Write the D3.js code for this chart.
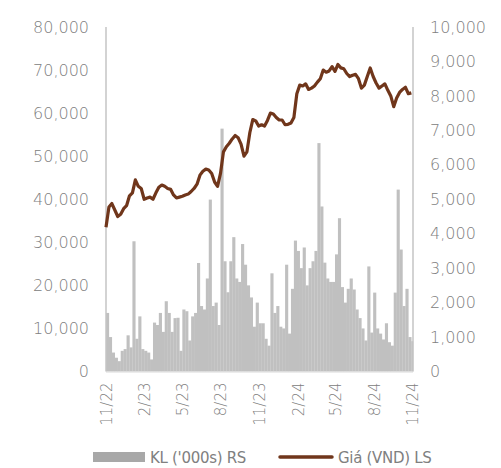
<!DOCTYPE html>
<html>
<head>
<meta charset="utf-8">
<script src="https://cdn.jsdelivr.net/npm/d3@7"></script>
<style>
  body { margin: 0; background: #fff; }
  text { font-family: "DejaVu Sans", sans-serif; fill: #808080; }
</style>
</head>
<body>
<script>
const w = 501;
const h = 468;

// weekly points, first week starting 28 Nov 2022
const startDate = new Date(2022, 10, 28);
const endDate = new Date(2024, 10, 29);

// Giá (VND), left axis
const price = [33500, 38200, 39000, 37500, 36000, 36500, 37800, 38500, 40800, 41500,
  44500, 43000, 42500, 40000, 40300, 40500, 40000, 41500, 42800, 43300,
  43000, 42500, 42300, 41000, 40300, 40500, 40700, 41000, 41200, 41800,
  42500, 43500, 45600, 46500, 47000, 46800, 46000, 44000, 43000, 46000,
  51000, 52200, 53000, 54000, 54800, 54300, 52800, 50000, 51000, 55500,
  58500, 58200, 57000, 57300, 57000, 58300, 60000, 59800, 59000, 58400,
  58400, 57300, 57400, 57700, 59000, 64500, 66500, 66300, 66800, 65500,
  65800, 66300, 67200, 68000, 70000, 69500, 69800, 70800, 69700, 71300,
  70500, 70300, 69200, 68500, 68800, 69000, 68000, 65800, 66500, 68500,
  70500, 68500, 67000, 65800, 66300, 66800, 65300, 64000, 61500, 63500,
  64800, 65500, 66000, 64500, 64700];

// KL ('000s), right axis
const volume = [1700, 1000, 550, 400, 300, 600, 650, 1050, 700, 3780,
  950, 1600, 650, 600, 550, 350, 1420, 1350, 1700, 1150,
  2040, 1700, 1150, 1550, 1560, 600, 1800, 1750, 900, 1600,
  1700, 3150, 1900, 1800, 2700, 4990, 1900, 2000, 1350, 7050,
  3200, 2300, 3200, 3900, 2700, 2600, 3700, 3100, 2500, 2150,
  1300, 2000, 1400, 1400, 950, 750, 2850, 1700, 1900, 1300,
  1250, 3100, 1100, 2400, 3800, 3500, 3000, 3600, 2500, 3000,
  3200, 3500, 6630, 4790, 3160, 2700, 2600, 2600, 3400, 4450,
  2450, 2000, 2400, 2700, 2380, 1800, 1550, 1250, 900, 3050,
  1130, 2290, 1250, 1100, 930, 1400, 850, 750, 2290, 5280,
  3540, 1900, 2400, 1000, 880];

const leftTicks = [0, 10000, 20000, 30000, 40000, 50000, 60000, 70000, 80000];
const rightTicks = [0, 1000, 2000, 3000, 4000, 5000, 6000, 7000, 8000, 9000, 10000];
const xTickDates = [[2022, 10], [2023, 1], [2023, 4], [2023, 7], [2023, 10],
  [2024, 1], [2024, 4], [2024, 7], [2024, 10]];

const legendBars = "KL ('000s) RS";
const legendLine = "Giá (VND) LS";

const weeks = d3.timeMonday.range(startDate, endDate).slice(0, price.length);
const rows = weeks.map((d, i) => ({ date: d, price: price[i], volume: volume[i] }));

const svg = d3.select("body").append("svg").attr("width", w).attr("height", h);

const xScale = d3.scaleTime().domain([startDate, endDate]).range([106, 413]);
const yLeft = d3.scaleLinear().domain([0, 80000]).range([371.5, 27]);
const yRight = d3.scaleLinear().domain([0, 10000]).range([371.5, 27]);

// volume bars
svg.append("g")
  .selectAll("rect")
  .data(rows)
  .enter()
  .append("rect")
  .attr("x", d => xScale(d.date))
  .attr("width", (d, i) => (i < rows.length - 1 ? xScale(rows[i + 1].date) : xScale(endDate)) - xScale(d.date) + 0.2)
  .attr("y", d => yRight(d.volume))
  .attr("height", d => yRight(0) - yRight(d.volume))
  .attr("fill", "#c0c0c0");

// axis lines
svg.append("line").attr("x1", 106).attr("x2", 106).attr("y1", 27).attr("y2", yLeft(0))
  .attr("stroke", "#c4c4c4").attr("stroke-width", 1.5);
svg.append("line").attr("x1", 413).attr("x2", 413).attr("y1", 27).attr("y2", yLeft(0))
  .attr("stroke", "#c4c4c4").attr("stroke-width", 1.5);
svg.append("line").attr("x1", 106).attr("x2", 413).attr("y1", yLeft(0) + 0.5).attr("y2", yLeft(0) + 0.5)
  .attr("stroke", "#dadada").attr("stroke-width", 1);

// price line
const line = d3.line()
  .x(d => xScale(d.date))
  .y(d => yLeft(d.price));

svg.append("path")
  .datum(rows)
  .attr("d", line)
  .attr("fill", "none")
  .attr("stroke", "#70361b")
  .attr("stroke-width", 3.2)
  .attr("stroke-linejoin", "round");

// y axes
const leftAxis = d3.axisLeft(yLeft).tickValues(leftTicks).tickSize(0).tickPadding(17)
  .tickFormat(d3.format(","));
svg.append("g")
  .attr("transform", "translate(106,0)")
  .call(leftAxis)
  .call(g => g.select(".domain").remove())
  .selectAll("text")
  .attr("font-size", "16px")
  .attr("font-family", "DejaVu Sans")
  .attr("font-weight", 200)
  .attr("fill", "#7a7a7a");

const rightAxis = d3.axisRight(yRight).tickValues(rightTicks).tickSize(0).tickPadding(17)
  .tickFormat(d3.format(","));
svg.append("g")
  .attr("transform", "translate(413,0)")
  .call(rightAxis)
  .call(g => g.select(".domain").remove())
  .selectAll("text")
  .attr("font-size", "16px")
  .attr("font-family", "DejaVu Sans")
  .attr("font-weight", 200)
  .attr("fill", "#7a7a7a");

// x axis, rotated labels
const xTicks = xTickDates.map(d => new Date(d[0], d[1], 28));
const xAxis = d3.axisBottom(xScale).tickValues(xTicks).tickSize(0)
  .tickFormat(d3.timeFormat("%-m/%y"));
svg.append("g")
  .attr("transform", "translate(0," + yLeft(0) + ")")
  .call(xAxis)
  .call(g => g.select(".domain").remove())
  .selectAll("text")
  .attr("font-size", "15px")
  .attr("font-family", "DejaVu Sans")
  .attr("font-weight", 200)
  .attr("fill", "#7a7a7a")
  .attr("text-anchor", "end")
  .attr("transform", "rotate(-90)")
  .attr("x", -11)
  .attr("y", 0)
  .attr("dy", "0.36em");

// legend
svg.append("rect").attr("x", 93).attr("y", 452).attr("width", 52).attr("height", 10).attr("fill", "#a8a8a8");
svg.append("text").attr("x", 150).attr("y", 463).attr("font-size", "15px")
  .attr("font-family", "Liberation Sans").attr("letter-spacing", "-0.3px").attr("fill", "#7a7a7a")
  .text(legendBars);
svg.append("line").attr("x1", 280).attr("x2", 332).attr("y1", 457).attr("y2", 457)
  .attr("stroke", "#70361b").attr("stroke-width", 3.5).attr("stroke-linecap", "round");
svg.append("text").attr("x", 338).attr("y", 463).attr("font-size", "15px")
  .attr("font-family", "Liberation Sans").attr("letter-spacing", "-0.3px").attr("fill", "#7a7a7a")
  .text(legendLine);
</script>
</body>
</html>
